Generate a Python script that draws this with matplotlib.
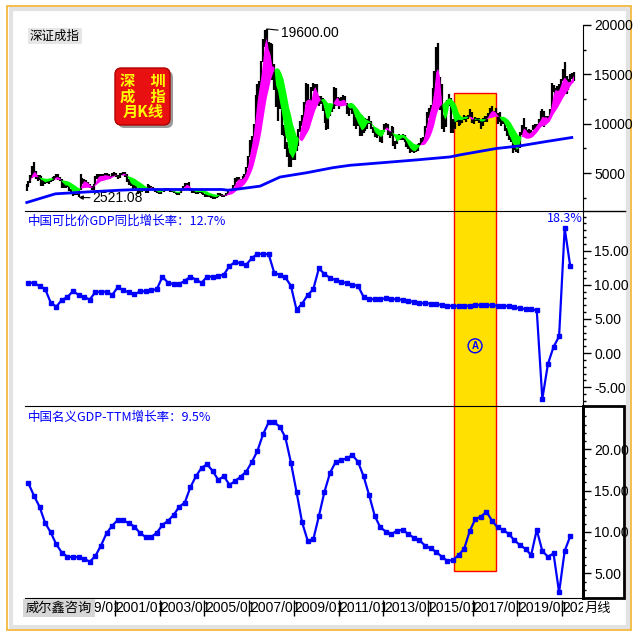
import numpy as np
import pandas as pd
import matplotlib
matplotlib.use('Agg')
import matplotlib.pyplot as plt
from matplotlib.patches import Rectangle, FancyBboxPatch
from matplotlib.lines import Line2D
import matplotlib.transforms as mtransforms

plt.rcParams['font.family'] = ['Noto Sans CJK SC', 'DejaVu Sans']
NUM_FONT = ['Liberation Sans Narrow', 'Liberation Sans', 'DejaVu Sans']

# ---------------- data ----------------
start_year = 1997
# Shenzhen Component Index, monthly (1997/01 - 2021/07)
sz_close = [
    3720, 4070, 4640, 5530, 5060, 4560, 4420, 4560, 3900, 4200, 4000, 4180,
    4250, 4300, 4400, 4550, 4750, 4400, 4300, 3650, 3800, 3700, 3700, 3300,
    3000, 2800, 2950, 2850, 3100, 4300, 4100, 4150, 4000, 3850, 3600, 3360,
    3800, 4600, 4700, 4650, 4750, 4700, 4850, 4750, 4550, 4600, 4850, 4750,
    4700, 4500, 4900, 4850, 5000, 4900, 4200, 4000, 3750, 3650, 3850, 3330,
    3000, 3150, 3250, 3350, 3100, 3650, 3550, 3500, 3300, 3150, 3000, 2900,
    3250, 3200, 3150, 3300, 3350, 3100, 3100, 3050, 2900, 2900, 3050, 3330,
    3650, 3850, 3950, 3450, 3350, 3050, 3100, 2950, 3200, 3000, 3050, 2870,
    2600, 2850, 2650, 2650, 2500, 2600, 2550, 2850, 2800, 2700, 2650, 2900,
    3150, 3300, 3300, 3750, 4300, 4500, 4250, 4300, 4600, 4800, 5600, 6650,
    8000, 8600, 9900, 12800, 13900, 13700, 16300, 18500, 19200, 18300, 15100, 17700,
    14600, 15000, 12000, 13000, 11800, 9100, 9500, 7800, 7500, 5850, 7000, 6480,
    7260, 8000, 9400, 10100, 10700, 12100, 13900, 11200, 12300, 13500, 14000, 13700,
    12200, 12600, 12400, 11500, 10600, 9700, 11000, 11600, 11700, 13100, 12500, 12450,
    12000, 12500, 12700, 12000, 11200, 11700, 11700, 11300, 9850, 10400, 9900, 8900,
    9200, 10200, 9600, 10300, 10300, 9600, 9300, 8600, 9000, 8800, 8200, 9100,
    9800, 9900, 9100, 8900, 9600, 8000, 8100, 8400, 8500, 8500, 8800, 8120,
    7800, 7600, 7200, 7200, 7200, 7340, 7870, 7800, 8400, 8500, 9700, 11000,
    11200, 11800, 13200, 14800, 17600, 14300, 12300, 10400, 9600, 11200, 12000, 12700,
    10000, 9800, 10600, 10400, 10200, 10500, 10300, 10700, 10400, 10700, 11100, 10200,
    10300, 10600, 10450, 10200, 10000, 10450, 10400, 10600, 11000, 11500, 11300, 11000,
    11100, 10500, 10400, 10100, 10200, 9400, 9000, 8300, 8400, 7400, 7500, 7240,
    7550, 9030, 9900, 9530, 8800, 9000, 9200, 9100, 9650, 9900, 9800, 10430,
    10680, 11000, 10200, 10800, 10600, 11400, 13400, 13800, 13000, 13200, 13900, 14470,
    14800, 14750, 13800, 14000, 14900, 14600, 15100,
]
sz_high = [
    3900, 4200, 4800, 5700, 6100, 5200, 4800, 4800, 4700, 4400, 4300, 4400,
    4400, 4400, 4600, 4700, 4900, 4900, 4600, 4400, 4000, 3900, 3900, 3800,
    3400, 3100, 3100, 3100, 3300, 4900, 4500, 4400, 4300, 4100, 3900, 3700,
    3900, 4700, 4900, 4900, 4900, 4850, 5000, 5000, 4900, 4700, 5000, 5090,
    4950, 4800, 5000, 5050, 5100, 5080, 4900, 4400, 4200, 3900, 3900, 3900,
    3400, 3250, 3400, 3500, 3450, 3850, 3800, 3650, 3550, 3350, 3200, 3050,
    3350, 3300, 3350, 3500, 3500, 3400, 3200, 3200, 3100, 3000, 3100, 3400,
    3700, 3950, 4000, 4100, 3500, 3400, 3150, 3150, 3350, 3200, 3150, 3050,
    2850, 2950, 2900, 2800, 2700, 2700, 2650, 2950, 2950, 2850, 2750, 2950,
    3200, 3400, 3350, 3800, 4500, 4550, 4550, 4400, 4650, 4850, 5650, 6700,
    8300, 8800, 10000, 12900, 14000, 14300, 16400, 18600, 19500, 19600, 18300, 18200,
    18100, 16000, 15100, 13600, 14000, 12000, 9900, 9600, 8100, 7500, 7300, 7500,
    7400, 8800, 9500, 10300, 10900, 12200, 14100, 14000, 12500, 13700, 14080, 14050,
    14000, 12800, 12800, 12600, 11600, 10800, 11200, 11800, 11900, 13700, 13600, 12700,
    12600, 12700, 12900, 12800, 12100, 11800, 12100, 11800, 11400, 10700, 10800, 10000,
    9500, 10400, 10600, 10500, 10800, 10300, 9700, 9400, 9100, 9200, 8900, 9400,
    10000, 10100, 10000, 9300, 9800, 9700, 8200, 8400, 9000, 8800, 9000, 8900,
    8200, 8100, 7700, 7600, 7400, 7500, 7900, 8000, 8500, 8600, 9800, 11200,
    11600, 11900, 13600, 15300, 17800, 18211, 14700, 14000, 10900, 11500, 12400, 13000,
    12600, 10500, 10700, 10800, 10500, 10700, 10600, 10900, 10800, 10900, 11500, 11200,
    10500, 10700, 10600, 10600, 10300, 10600, 10800, 10800, 11100, 11600, 11800, 11300,
    11600, 11100, 11200, 10700, 10500, 10300, 9600, 9400, 8600, 8400, 7900, 7800,
    7800, 9200, 9900, 10540, 9700, 9400, 9500, 9400, 9900, 10000, 10000, 10500,
    11300, 11500, 11300, 10800, 10800, 11500, 14100, 13900, 13600, 13800, 14000, 14500,
    15500, 16293, 14800, 14500, 15000, 15100, 15200,
]
sz_low = [
    3200, 3600, 4000, 4500, 4900, 4400, 4200, 4300, 3700, 3700, 3900, 4000,
    3900, 4100, 4200, 4300, 4500, 4300, 4200, 3500, 3500, 3500, 3600, 3200,
    2900, 2700, 2750, 2750, 2521, 3300, 3900, 3900, 3900, 3700, 3500, 3300,
    3300, 3800, 4400, 4500, 4500, 4500, 4600, 4600, 4500, 4400, 4550, 4650,
    4550, 4400, 4500, 4750, 4800, 4600, 4100, 3800, 3700, 3300, 3500, 3300,
    2850, 2950, 3100, 3200, 3000, 3000, 3450, 3450, 3250, 3100, 2950, 2850,
    2850, 3150, 3100, 3200, 3250, 3050, 3050, 3000, 2850, 2800, 2800, 3000,
    3300, 3600, 3700, 3400, 3200, 2950, 2950, 2900, 2850, 2950, 2900, 2800,
    2550, 2550, 2600, 2500, 2400, 2350, 2450, 2550, 2700, 2600, 2550, 2650,
    2900, 3150, 3150, 3250, 3700, 4050, 4100, 4100, 4250, 4500, 4750, 5500,
    6600, 7300, 8500, 9900, 11500, 11500, 12800, 16200, 17800, 17300, 14600, 15000,
    14400, 13400, 11700, 10300, 11500, 8900, 8700, 7400, 6600, 5600, 5577, 6300,
    6300, 7200, 7700, 9200, 9800, 10600, 11900, 11000, 11000, 12200, 13300, 12900,
    11900, 11800, 12000, 11300, 10100, 9400, 9450, 10800, 11200, 11500, 11800, 12100,
    11500, 11800, 12100, 11900, 11000, 10800, 11400, 11000, 9800, 9500, 9800, 8800,
    8800, 9100, 9300, 9500, 10000, 9500, 9100, 8600, 8500, 8800, 8100, 8000,
    9200, 9500, 8900, 8500, 8800, 7700, 7400, 7900, 8300, 8300, 8300, 8100,
    7600, 7400, 7000, 7100, 7050, 7100, 7200, 7700, 7800, 8100, 8200, 9600,
    10600, 11200, 11700, 13100, 14100, 14000, 11400, 9500, 9200, 9700, 11300, 11800,
    9100, 9100, 9500, 10200, 9800, 9900, 10100, 10400, 10200, 10500, 10700, 10100,
    10000, 10300, 10300, 10100, 9500, 9800, 10200, 10200, 10600, 10900, 11100, 10800,
    10900, 10000, 10200, 9800, 10000, 9300, 8800, 8300, 8100, 7000, 7300, 7100,
    7011, 7500, 8900, 9300, 8500, 8700, 8900, 8700, 9400, 9500, 9600, 9700,
    10300, 9800, 9700, 10200, 10300, 10500, 11400, 13200, 12700, 13000, 13200, 13500,
    14300, 14400, 13000, 13400, 14200, 14500, 14300,
]
# long-term moving average (blue line), read at points
ma_long_t = [1996.99, 1997.73, 1998.33, 1999.08, 1999.82, 2001.31, 2002.06, 2005.79,
             2006.05, 2006.59, 2007.49, 2008.38, 2009.58, 2010.75, 2011.51, 2012.99,
             2014.50, 2015.99, 2016.44, 2018.05, 2019.12, 2020.32, 2021.50]
ma_long_v = [1970, 2480, 2890, 2990, 3090, 3265, 3330, 3330,
             3260, 3400, 3670, 4590, 5030, 5540, 5780, 6050,
             6330, 6630, 6840, 7480, 7750, 8200, 8620]

# China real GDP YoY (cumulative, quarterly, 1997Q1 - 2021Q2)
gdp_real = [
    10.3, 10.3, 9.8, 9.4,   7.4, 6.8, 7.8, 8.2,   9.1, 8.5, 8.2, 7.85,
    8.95, 9.0, 9.0, 8.5,    9.65, 9.2, 8.9, 8.6,  9.05, 9.05, 9.2, 9.35,
    11.2, 10.3, 10.1, 10.1, 10.6, 11.2, 10.75, 10.3, 11.2, 11.2, 11.3, 11.5,
    12.75, 13.35, 13.15, 12.95, 13.9, 14.55, 14.5, 14.5, 11.8, 11.45, 11.1, 9.85,
    6.35, 7.25, 8.5, 9.35,  12.4, 11.6, 11.0, 10.7, 10.45, 10.25, 10.0, 9.85,
    8.25, 7.9, 7.9, 7.9,    8.05, 7.9, 7.9, 7.8,  7.65, 7.5, 7.3, 7.3,
    7.25, 7.25, 7.0, 6.95,  6.9, 6.9, 6.9, 6.95,  7.0, 7.05, 7.05, 7.0,
    6.95, 6.9, 6.9, 6.7,    6.55, 6.45, 6.4, 6.3, -6.7, -1.6, 0.9, 2.45,
    18.3, 12.7,
]
# China nominal GDP TTM growth (quarterly, 1997Q1 - 2021Q2)
gdp_nominal_ttm = [
    15.9, 14.4, 13.05, 11.1, 9.95, 8.5, 7.5, 7.0,   6.95, 6.95, 6.75, 6.4,
    7.1, 8.35, 9.85, 10.75,  11.45, 11.4, 11.05, 10.65, 9.85, 9.4, 9.4, 9.9,
    10.85, 11.35, 12.05, 13.05, 13.55, 15.4, 16.75, 17.75, 18.2, 17.35, 16.3, 16.75,
    15.7, 16.15, 16.7, 17.3, 18.45, 19.8, 21.8, 23.25, 23.25, 22.75, 21.45, 18.4,
    14.85, 11.15, 8.95, 9.1,  11.9, 14.85, 17.15, 18.45, 18.7, 18.9, 19.3, 18.5,
    16.75, 14.45, 11.95, 10.55, 10.05, 9.75, 10.15, 10.25, 9.75, 9.3, 9.0, 8.35,
    8.0, 7.6, 7.0, 6.5,  6.6, 7.2, 7.95, 10.1,  11.55, 11.85, 12.45, 11.35,
    10.55, 10.25, 9.75, 9.0,  8.4, 7.95, 7.2, 10.25,  7.7, 7.0, 7.4, 2.7,
    7.7, 9.5,
]
x_tick_years = [1999, 2001, 2003, 2005, 2007, 2009, 2011, 2013, 2015, 2017, 2019, 2021]
highlight_start, highlight_end = 2016.17, 2018.05
peak_value, low_value = 19600.00, 2521.08

# ---------------- derived positions ----------------
n_m = len(sz_close)
t_month = start_year + np.arange(n_m) / 12.0 + 0.04
n_q = len(gdp_real)
t_q = start_year + np.arange(n_q) * 0.25 + 0.12
close_s = pd.Series(sz_close, dtype=float)
fast = close_s.rolling(3, min_periods=1).mean().values
slow = close_s.rolling(12, min_periods=1).mean().values

W = 640.0
def fx(px): return px / W
def fy(py): return 1.0 - py / W

fig = plt.figure(figsize=(6.4, 6.4), dpi=100)
fig.patch.set_facecolor('white')

X0, X1 = 25, 583
def add_ax(ytop, ybot):
    ax = fig.add_axes([fx(X0), fy(ybot), fx(X1) - fx(X0), fy(ytop) - fy(ybot)])
    ax.set_facecolor('none')
    return ax

ax_top = add_ax(25, 211)
ax_mid = add_ax(211, 406)
ax_bot = add_ax(406, 598)
ax_lab = add_ax(599, 617)
XLIM = (1996.97, 2021.94)
for ax in (ax_top, ax_mid, ax_bot, ax_lab):
    ax.set_xlim(*XLIM)
    ax.tick_params(axis='x', bottom=False, labelbottom=False)
    for s in ('left', 'top', 'bottom', 'right'):
        ax.spines[s].set_visible(False)

ax_top.set_ylim(1149, 20000)
ax_mid.set_ylim(-7.74, 20.81)
ax_bot.set_ylim(2.01, 25.24)

ax_top.spines['right'].set_visible(True)
ax_mid.spines['right'].set_visible(True)
ax_mid.spines['top'].set_visible(True)
ax_bot.spines['right'].set_visible(True)
ax_bot.spines['right'].set_linewidth(2.0)
ax_bot.spines['top'].set_visible(True)
ax_bot.spines['bottom'].set_visible(True)

def right_ticks(ax, major, minor, fmt):
    ax.yaxis.tick_right()
    ax.set_yticks(major, labels=[fmt % v for v in major], fontfamily=NUM_FONT, fontsize=10)
    ax.set_yticks(minor, minor=True)
    ax.tick_params(axis='y', which='major', direction='out', length=6, width=1, pad=2)
    ax.tick_params(axis='y', which='minor', direction='out', length=2, width=1)
    ax.tick_params(axis='y', left=False, which='both')

right_ticks(ax_top, [5000, 10000, 15000, 20000], np.arange(2500, 20000, 2500), '%d')
right_ticks(ax_mid, [-5, 0, 5, 10, 15], np.arange(-7, 21, 1.0), '%.2f')
right_ticks(ax_bot, [5, 10, 15, 20], np.arange(3, 25, 1.0), '%.2f')
ax_lab.set_yticks([])
ax_lab.set_ylim(0, 1)

# yellow highlight spanning all panels
blend = mtransforms.blended_transform_factory(ax_mid.transData, fig.transFigure)
hl = Rectangle((highlight_start, fy(571)), highlight_end - highlight_start, fy(93) - fy(571),
               transform=blend, facecolor='#FFE000', edgecolor='#FF0000', lw=1.0, zorder=-1)
fig.add_artist(hl)

# ---- top panel: monthly bars + ribbons + long MA ----
ax_top.vlines(t_month, sz_low, sz_high, color='black', lw=1.6, zorder=2)
ax_top.fill_between(t_month, fast, slow, where=fast >= slow, interpolate=True,
                    color='#FF00FF', lw=0, zorder=3)
ax_top.fill_between(t_month, fast, slow, where=fast < slow, interpolate=True,
                    color='#00FF00', lw=0, zorder=3)
ax_top.plot(ma_long_t, ma_long_v, color='#0000FF', lw=2.0, zorder=4, solid_capstyle='butt')

i_peak = int(np.argmax(sz_high))
ax_top.annotate('%.2f' % peak_value, xy=(t_month[i_peak], peak_value), xytext=(2008.42, 19150),
                va='center', ha='left', fontsize=10, fontfamily=NUM_FONT,
                arrowprops=dict(arrowstyle='-', color='black', lw=0.8, shrinkA=0, shrinkB=0))
i_low = int(np.argmin(sz_low[:60]))
ax_top.annotate('%.2f' % low_value, xy=(t_month[i_low], low_value), xytext=(2000.0, 2440),
                va='center', ha='left', fontsize=10, fontfamily=NUM_FONT,
                arrowprops=dict(arrowstyle='-|>', color='black', lw=0.8, shrinkA=0, shrinkB=0,
                                mutation_scale=6))

# ---- middle & bottom panels ----
ax_mid.plot(t_q, gdp_real, color='#0000FF', lw=1.6, marker='s', ms=3, zorder=3)
ax_bot.plot(t_q, gdp_nominal_ttm, color='#0000FF', lw=1.6, marker='s', ms=3, zorder=3)
ax_mid.text(2017.11, 1.07, 'A', color='#0000FF', fontsize=7, fontweight='bold',
            ha='center', va='center', fontfamily=NUM_FONT,
            bbox=dict(boxstyle='circle,pad=0.2', fc='none', ec='#0000FF', lw=1.0))

# ---- x label row ----
ax_lab.vlines(x_tick_years, 0.05, 0.95, color='black', lw=1.0)
for yr in x_tick_years:
    ax_lab.text(yr + 0.03, 0.5, '%d/01' % yr, ha='left', va='center', fontsize=10,
                fontfamily=NUM_FONT, clip_on=True)

# ---- separators / right box ----
fig.add_artist(Line2D([fx(583), fx(625)], [fy(211), fy(211)], color='black', lw=1.0))
fig.add_artist(Rectangle((fx(583), fy(598)), fx(624) - fx(583), fy(406) - fy(598),
                         transform=fig.transFigure, fill=False, ec='black', lw=2.0))

# ---- texts ----
fig.text(fx(30), fy(36), '深证成指', fontsize=9, ha='left', va='center',
         bbox=dict(boxstyle='square,pad=0.15', fc='#e6e6e6', ec='none'))
fig.text(fx(28), fy(221), '中国可比价GDP同比增长率：12.7%', color='#0000FF', fontsize=9,
         ha='left', va='center')
fig.text(fx(28), fy(418), '中国名义GDP-TTM增长率：9.5%', color='#0000FF', fontsize=9,
         ha='left', va='center')
fig.text(fx(547), fy(218), '18.3%', color='#0000FF', fontsize=9, ha='left', va='center')
fig.text(fx(26), fy(608), '威尔鑫咨询', fontsize=9.5, ha='left', va='center', zorder=10,
         bbox=dict(boxstyle='square,pad=0.2', fc='#d6d6d6', ec='none'))
fig.text(fx(585), fy(608), '月线', fontsize=9.5, ha='left', va='center')

# ---- red badge ----
shadow = FancyBboxPatch((fx(118), fy(128)), fx(170) - fx(115), fy(68) - fy(125),
                        boxstyle='round,pad=0,rounding_size=0.01', transform=fig.transFigure,
                        fc='#9a9a9a', ec='none', zorder=5)
badge = FancyBboxPatch((fx(115), fy(125)), fx(170) - fx(115), fy(68) - fy(125),
                       boxstyle='round,pad=0,rounding_size=0.01', transform=fig.transFigure,
                       fc='#E81010', ec='#B00000', lw=1.0, zorder=6)
fig.add_artist(shadow)
fig.add_artist(badge)
for txt, py in (('深\u3000圳', 81), ('成\u3000指', 97), ('月K线', 112)):
    fig.text(fx(143), fy(py), txt, color='#FFFF00', fontsize=11, fontweight='bold',
             ha='center', va='center', zorder=7)

# ---- outer frame ----
fig.add_artist(Rectangle((fx(11), fy(627)), fx(628) - fx(11), fy(9) - fy(627),
                         transform=fig.transFigure, fill=False, ec='#e2e2e2', lw=3.0, zorder=-2))
fig.add_artist(Rectangle((fx(7), fy(630)), fx(631) - fx(7), fy(6) - fy(630),
                         transform=fig.transFigure, fill=False, ec='#F2B231', lw=1.2, zorder=-2))

fig.savefig('out.png', dpi=100)
